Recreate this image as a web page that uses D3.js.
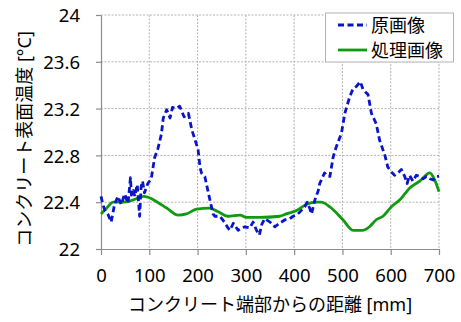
<!DOCTYPE html>
<html>
<head>
<meta charset="utf-8">
<script src="https://cdn.jsdelivr.net/npm/d3@7"></script>
<style>
  html, body { margin: 0; padding: 0; background: #fff; }
  svg text { font-family: "Noto Sans", "Noto Sans CJK JP", sans-serif; fill: #000; }
</style>
</head>
<body>
<svg id="chart" width="461" height="322"></svg>
<script>
// Distance from the concrete edge [mm] and surface temperature [°C]
const rawDist = [0, 4, 8, 14, 21, 28, 35, 42, 49, 56, 61, 63, 67, 70, 75, 80, 83, 86, 90, 97, 104,
  111, 118, 125, 129, 136, 143, 148, 156, 163, 172, 181, 188, 195, 201, 205, 208, 215, 225, 232,
  236, 246, 252, 257, 263, 267, 274, 284, 291, 298, 308, 315, 322, 328, 333, 339, 350, 360, 370,
  381, 391, 398, 408, 415, 422, 427, 432, 436, 443, 450, 453, 463, 470, 474, 481, 487, 498, 505,
  515, 522, 529, 537, 543, 553, 560, 570, 577, 588, 594, 601, 608, 615, 622, 629, 634, 639, 646,
  653, 660, 667, 674, 681, 688, 694, 700];
const rawTemp = [22.45, 22.38, 22.33, 22.30, 22.23, 22.38, 22.45, 22.38, 22.47, 22.39, 22.61, 22.46,
  22.50, 22.45, 22.55, 22.28, 22.53, 22.58, 22.48, 22.56, 22.60,
  22.78, 22.86, 22.98, 23.12, 23.19, 23.12, 23.21, 23.20, 23.22, 23.13, 23.16, 23.02, 22.93, 22.85,
  22.70, 22.65, 22.62, 22.43, 22.30,
  22.28, 22.28, 22.25, 22.22, 22.18, 22.16, 22.22, 22.16, 22.18, 22.19, 22.18, 22.23, 22.16, 22.12,
  22.21, 22.26, 22.23, 22.19, 22.22,
  22.25, 22.26, 22.28, 22.30, 22.33, 22.36, 22.40, 22.35, 22.30, 22.42, 22.50, 22.56, 22.65, 22.62,
  22.62, 22.79, 22.87, 22.99, 23.16,
  23.30, 23.37, 23.39, 23.43, 23.36, 23.32, 23.16, 23.07, 22.93, 22.80, 22.70, 22.66, 22.63, 22.65,
  22.68, 22.62, 22.56, 22.63, 22.58,
  22.63, 22.62, 22.60, 22.62, 22.60, 22.59, 22.62, 22.62];

const procDist = [0, 12, 25, 46, 67, 88, 99, 117, 136, 160, 177, 198, 225, 242, 263, 288, 301, 328,
  370, 384, 405, 425, 446, 456, 474, 501, 522, 543, 556, 570, 584, 601, 619, 639, 660, 681, 691, 700];
const procTemp = [22.30, 22.35, 22.40, 22.40, 22.42, 22.45, 22.44, 22.40, 22.35, 22.29, 22.30, 22.34,
  22.35, 22.32, 22.28, 22.29, 22.27, 22.27, 22.28, 22.30, 22.33, 22.38, 22.40, 22.40, 22.36, 22.25,
  22.16, 22.16, 22.19, 22.25, 22.28, 22.36, 22.42, 22.52, 22.58, 22.65, 22.59, 22.49];

const xTicks = [0, 100, 200, 300, 400, 500, 600, 700];
const yTicks = [22, 22.4, 22.8, 23.2, 23.6, 24];
const seriesNames = ["原画像", "処理画像"];
const xTitle = "コンクリート端部からの距離 [mm]";
const yTitle = "コンクリート表面温度 [°C]";

const rawPts = rawDist.map((d, i) => [d, rawTemp[i]]);
const procPts = procDist.map((d, i) => [d, procTemp[i]]);

const svg = d3.select("#chart");
const plotL = 101, plotR = 439, plotT = 15, plotB = 249;

const x = d3.scaleLinear().domain([0, 700]).range([plotL, plotR]);
const y = d3.scaleLinear().domain([22, 24]).range([plotB, plotT]);

const blue = "#0a14c8", green = "#119a11";

// dotted grid
const grid = svg.append("g");
grid.selectAll("line.gy").data(yTicks.slice(1)).join("line")
  .attr("x1", plotL).attr("x2", plotR)
  .attr("y1", d => y(d)).attr("y2", d => y(d))
  .attr("stroke", "#b4b4b4").attr("stroke-width", 1).attr("stroke-dasharray", "2,1.5");
grid.selectAll("line.gx").data(xTicks.slice(1)).join("line")
  .attr("x1", d => x(d)).attr("x2", d => x(d))
  .attr("y1", plotT).attr("y2", plotB)
  .attr("stroke", "#b4b4b4").attr("stroke-width", 1).attr("stroke-dasharray", "2,1.5");

// axes
const xAxis = svg.append("g").attr("transform", `translate(0,${plotB})`)
  .call(d3.axisBottom(x).tickValues(xTicks).tickSize(6).tickPadding(14).tickSizeOuter(0));
const yAxis = svg.append("g").attr("transform", `translate(${plotL},0)`)
  .call(d3.axisLeft(y).tickValues(yTicks).tickSize(5).tickPadding(16).tickSizeOuter(0)
    .tickFormat(d3.format("")));
[xAxis, yAxis].forEach(a => {
  a.select(".domain").attr("stroke", "#8c8c8c").attr("stroke-width", 1.2);
  a.selectAll(".tick line").attr("stroke", "#8c8c8c").attr("stroke-width", 1.2);
  a.selectAll(".tick text").style("font-size", "18.5px").attr("fill", "#000");
});
yAxis.selectAll(".tick text").attr("dy", "0.36em");

// series
svg.append("path").datum(procPts)
  .attr("d", d3.line().x(d => x(d[0])).y(d => y(d[1])).curve(d3.curveMonotoneX))
  .attr("fill", "none").attr("stroke", green).attr("stroke-width", 2.8);
svg.append("path").datum(rawPts)
  .attr("d", d3.line().x(d => x(d[0])).y(d => y(d[1])))
  .attr("fill", "none").attr("stroke", blue).attr("stroke-width", 2.8)
  .attr("stroke-dasharray", "6,3.5").attr("stroke-linejoin", "round");

// axis titles
svg.append("text").attr("x", (plotL + plotR) / 2).attr("y", 311)
  .attr("text-anchor", "middle").style("font-size", "18px").text(xTitle);
svg.append("text").attr("transform", "translate(24,139) rotate(-90)")
  .attr("text-anchor", "middle").attr("dominant-baseline", "central")
  .style("font-size", "18px").text(yTitle);

// legend
const lg = svg.append("g");
lg.append("rect").attr("x", 325.5).attr("y", 13).attr("width", 128).attr("height", 49)
  .attr("fill", "#fff").attr("stroke", "#b4b4b4").attr("stroke-width", 1);
const styles = [{ c: blue, dash: "6,3.5" }, { c: green, dash: null }];
seriesNames.forEach((name, i) => {
  const yy = 25 + i * 25;
  lg.append("line").attr("x1", 338).attr("x2", 367).attr("y1", yy).attr("y2", yy)
    .attr("stroke", styles[i].c).attr("stroke-width", 2.8)
    .attr("stroke-dasharray", styles[i].dash);
  lg.append("text").attr("x", 371).attr("y", yy).attr("dominant-baseline", "central")
    .style("font-size", "18px").text(name);
});
</script>
</body>
</html>
